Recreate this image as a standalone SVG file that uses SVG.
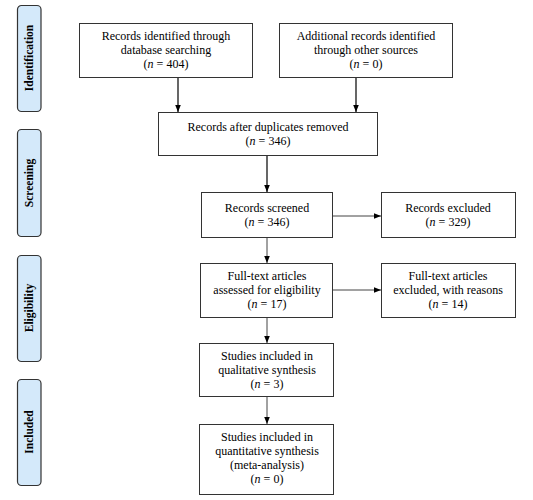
<svg xmlns="http://www.w3.org/2000/svg" width="533" height="500" viewBox="0 0 533 500">
<style>
.box{fill:#fff;stroke:#333;stroke-width:1}
.side{fill:#d4e9fa;stroke:#333;stroke-width:1.2}
.t{font-family:'Liberation Serif','Times New Roman','DejaVu Serif',serif;font-size:12px;fill:#000;text-anchor:middle}
.s{font-family:'Liberation Serif','Times New Roman','DejaVu Serif',serif;font-size:11.5px;font-weight:bold;fill:#000;text-anchor:middle}
.c{stroke:#000;stroke-width:1.2;fill:none;marker-end:url(#ah)}
.c2{stroke:#444;stroke-width:1;fill:none;marker-end:url(#ah)}
</style>
<defs>
<marker id="ah" viewBox="0 0 10 10" refX="10" refY="5" markerWidth="7" markerHeight="7" markerUnits="userSpaceOnUse" orient="auto">
<path d="M0,1 L10,5 L0,9 Z" fill="#000"/>
</marker>
</defs>
<rect width="533" height="500" fill="#fff"/>
<g id="phase-identification"><rect class="side" x="17.5" y="5.5" width="23.5" height="106" rx="4"/><text class="s" font-family="Liberation Serif, serif" transform="translate(33,58) rotate(-90)">Identification</text></g>
<g id="phase-screening"><rect class="side" x="17.5" y="129.5" width="23.5" height="107" rx="4"/><text class="s" font-family="Liberation Serif, serif" transform="translate(33,183) rotate(-90)">Screening</text></g>
<g id="phase-eligibility"><rect class="side" x="17.5" y="255.5" width="23.5" height="106" rx="4"/><text class="s" font-family="Liberation Serif, serif" transform="translate(33,308) rotate(-90)">Eligibility</text></g>
<g id="phase-included"><rect class="side" x="17.5" y="379.5" width="23.5" height="106" rx="4"/><text class="s" font-family="Liberation Serif, serif" transform="translate(33,432) rotate(-90)">Included</text></g>

<g id="connectors">
<line class="c" x1="178" y1="77" x2="178" y2="112"/>
<line class="c" x1="356" y1="77" x2="356" y2="112"/>
<line class="c" x1="267" y1="155" x2="267" y2="192"/>
<line class="c2" x1="332" y1="216" x2="381" y2="216"/>
<line class="c2" x1="267" y1="237" x2="267" y2="263"/>
<line class="c2" x1="332" y1="290" x2="381" y2="290"/>
<line class="c2" x1="267" y1="317" x2="267" y2="343"/>
<line class="c2" x1="267" y1="396" x2="267" y2="424"/>
</g>

<g id="n1" font-family="Liberation Serif, serif"><rect class="box" x="79.5" y="23.5" width="173" height="54"/>
<text class="t" x="166" y="40">Records identified through</text>
<text class="t" x="166" y="54">database searching</text>
<text class="t" x="166" y="68">(<tspan font-style="italic">n</tspan> = 404)</text></g>

<g id="n2"><rect class="box" x="279.5" y="23.5" width="173" height="54"/>
<text class="t" x="366" y="40">Additional records identified</text>
<text class="t" x="366" y="54">through other sources</text>
<text class="t" x="366" y="68">(<tspan font-style="italic">n</tspan> = 0)</text></g>

<g id="n3"><rect class="box" x="158.5" y="112.5" width="219" height="43"/>
<text class="t" x="268" y="131">Records after duplicates removed</text>
<text class="t" x="268" y="145">(<tspan font-style="italic">n</tspan> = 346)</text></g>

<g id="n4"><rect class="box" x="201.5" y="192.5" width="131" height="45"/>
<text class="t" x="267" y="212">Records screened</text>
<text class="t" x="267" y="226">(<tspan font-style="italic">n</tspan> = 346)</text></g>

<g id="n5"><rect class="box" x="381.5" y="192.5" width="134" height="45"/>
<text class="t" x="448" y="212">Records excluded</text>
<text class="t" x="448" y="226">(<tspan font-style="italic">n</tspan> = 329)</text></g>

<g id="n6"><rect class="box" x="200.5" y="263.5" width="132" height="54"/>
<text class="t" x="267" y="280">Full-text articles</text>
<text class="t" x="267" y="294">assessed for eligibility</text>
<text class="t" x="267" y="308">(<tspan font-style="italic">n</tspan> = 17)</text></g>

<g id="n7"><rect class="box" x="381.5" y="263.5" width="134" height="54"/>
<text class="t" x="448" y="280">Full-text articles</text>
<text class="t" x="448" y="294">excluded, with reasons</text>
<text class="t" x="448" y="308">(<tspan font-style="italic">n</tspan> = 14)</text></g>

<g id="n8"><rect class="box" x="199.5" y="343.5" width="134" height="53"/>
<text class="t" x="267" y="360">Studies included in</text>
<text class="t" x="267" y="374">qualitative synthesis</text>
<text class="t" x="267" y="388">(<tspan font-style="italic">n</tspan> = 3)</text></g>

<g id="n9"><rect class="box" x="199.5" y="424.5" width="134" height="70"/>
<text class="t" x="267" y="441">Studies included in</text>
<text class="t" x="267" y="455">quantitative synthesis</text>
<text class="t" x="267" y="469">(meta-analysis)</text>
<text class="t" x="267" y="483">(<tspan font-style="italic">n</tspan> = 0)</text></g>
</svg>
